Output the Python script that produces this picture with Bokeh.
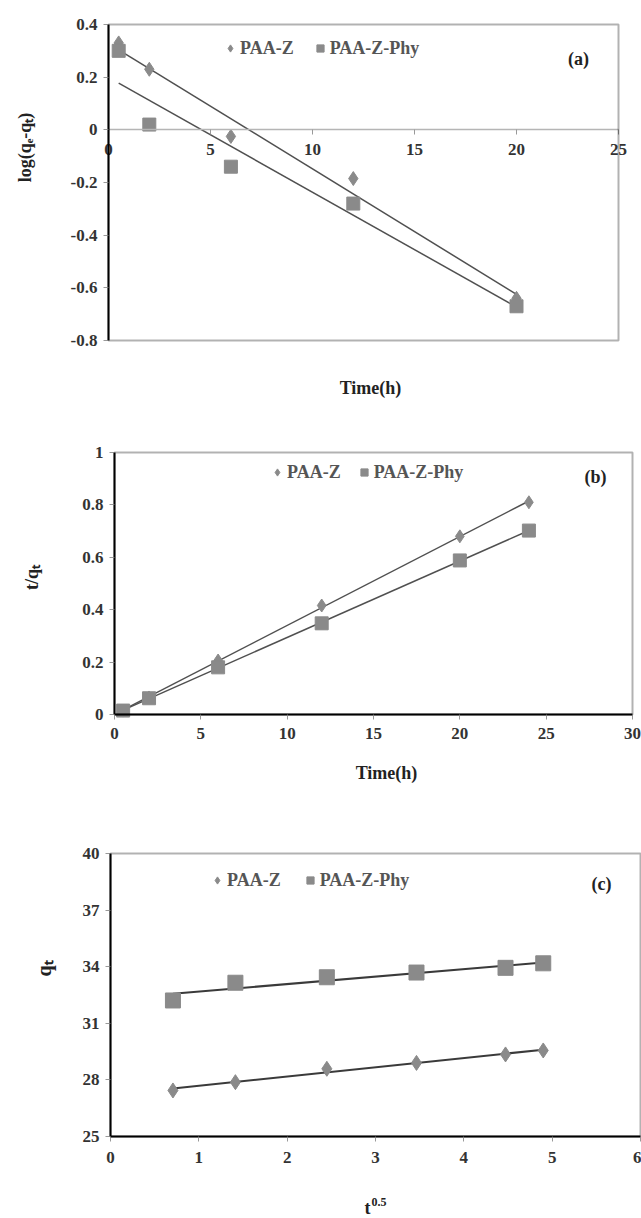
import numpy as np
from bokeh.plotting import figure
from bokeh.models import Range1d, FixedTicker, Label, Legend, LegendItem, LinearAxis, BoxAnnotation
from bokeh.layouts import column
from bokeh.embed import file_html
from bokeh.resources import INLINE

# ---------------- data ----------------
# (a) pseudo-first-order: log(qe - qt) vs time
time_a = [0.5, 2, 6, 12, 20]
logq_paaz = [0.33, 0.23, -0.025, -0.185, -0.64]
logq_phy = [0.30, 0.02, -0.14, -0.28, -0.67]

# (b) pseudo-second-order: t/qt vs time
time_b = [0.5, 2, 6, 12, 20, 24]
tq_paaz = [0.015, 0.065, 0.206, 0.416, 0.68, 0.81]
tq_phy = [0.015, 0.062, 0.18, 0.348, 0.588, 0.702]

# (c) intra-particle diffusion: qt vs t^0.5
sqrt_t = [0.707, 1.414, 2.449, 3.464, 4.472, 4.899]
qt_paaz = [27.44, 27.88, 28.59, 28.90, 29.35, 29.56]
qt_phy = [32.21, 33.15, 33.44, 33.69, 33.94, 34.18]

series_names = ["PAA-Z", "PAA-Z-Phy"]

xticks_a = [0, 5, 10, 15, 20, 25]
yticks_a = [-0.8, -0.6, -0.4, -0.2, 0, 0.2, 0.4]
ylabels_a = ["-0.8", "-0.6", "-0.4", "-0.2", "0", "0.2", "0.4"]
xticks_b = [0, 5, 10, 15, 20, 25, 30]
yticks_b = [0, 0.2, 0.4, 0.6, 0.8, 1]
ylabels_b = ["0", "0.2", "0.4", "0.6", "0.8", "1"]
xticks_c = [0, 1, 2, 3, 4, 5, 6]
yticks_c = [25, 28, 31, 34, 37, 40]

# ---------------- styles / layout ----------------
FONT = "Liberation Serif"
MARK = "#8a8a8a"
LINE = "#505050"
TICK_FS = "17px"
W = 641


def make_panel(H, box, xlim, ylim):
    """Figure whose frame is the whole canvas; box = (left, right, top, bottom) px of the plot box."""
    l, r, t, b = box
    kx = (xlim[1] - xlim[0]) / (r - l)
    ky = (ylim[1] - ylim[0]) / (b - t)
    xr = Range1d(xlim[0] - l * kx, xlim[0] + (W - l) * kx)
    yr = Range1d(ylim[0] - (H - b) * ky, ylim[1] + t * ky)
    p = figure(width=W, height=H, x_range=xr, y_range=yr, output_backend="svg",
               toolbar_location=None, x_axis_location=None, y_axis_location=None,
               min_border=0, min_border_left=0, min_border_right=0,
               min_border_top=0, min_border_bottom=0)
    p.outline_line_color = None
    p.background_fill_color = "white"
    p.border_fill_color = "white"
    for g in p.grid:
        g.visible = False

    def px(sx):
        return xlim[0] + (sx - l) * kx

    def py(sy):
        return ylim[0] + (b - sy) * ky

    p.add_layout(BoxAnnotation(left=xlim[0], right=xlim[1], bottom=ylim[0], top=ylim[1],
                               fill_alpha=0, line_color="black", line_width=2))
    return p, px, py


def style_axis(ax, line_color="black", line_width=2, standoff=6):
    ax.major_label_text_font = FONT
    ax.major_label_text_font_style = "bold"
    ax.major_label_text_font_size = TICK_FS
    ax.major_label_text_color = "#333333"
    ax.major_tick_line_color = "#999999"
    ax.major_tick_in = 0
    ax.major_tick_out = 5
    ax.minor_tick_line_color = None
    ax.axis_line_color = line_color
    ax.axis_line_width = line_width
    ax.major_label_standoff = standoff


def add_axes(p, xticks, yticks, x_at, y_at, x_standoff, ylabels=None, x_line="black", x_width=2):
    xa = LinearAxis(fixed_location=x_at, ticker=FixedTicker(ticks=xticks),
                    bounds=(xticks[0], xticks[-1]))
    style_axis(xa, x_line, x_width, x_standoff)
    p.add_layout(xa, "below")
    ya = LinearAxis(fixed_location=y_at, ticker=FixedTicker(ticks=yticks),
                    bounds=(yticks[0], yticks[-1]))
    style_axis(ya)
    if ylabels is not None:
        ya.major_label_overrides = dict(zip(yticks, ylabels))
    p.add_layout(ya, "left")


def add_trend(p, x, y, color=LINE, width=1.5):
    k, b = np.polyfit(x, y, 1)
    xs = [min(x), max(x)]
    p.line(xs, [k * xs[0] + b, k * xs[1] + b], line_color=color, line_width=width)


def add_legend(p, r1, r2, loc, spacing):
    leg = Legend(items=[LegendItem(label=series_names[0], renderers=[r1]),
                        LegendItem(label=series_names[1], renderers=[r2])],
                 orientation="horizontal", location=loc,
                 border_line_color=None, background_fill_alpha=0,
                 padding=0, margin=0, spacing=spacing,
                 glyph_width=18, glyph_height=22, label_standoff=1,
                 label_text_font=FONT, label_text_font_size="18px",
                 label_text_font_style="bold",
                 label_text_color="#555555", label_height=20)
    p.add_layout(leg)


def text(p, x, y, s, size="18px", angle=0.0, align="center"):
    p.add_layout(Label(x=x, y=y, text=s, text_font=FONT, text_font_size=size,
                       text_font_style="bold", text_align=align,
                       text_baseline="middle", angle=angle, text_color="#222222"))


# ---------------- (a) ----------------
Ha = 410
pa, pxa, pya = make_panel(Ha, (108, 618, 24, 340), (xticks_a[0], xticks_a[-1]), (yticks_a[0], yticks_a[-1]))
add_axes(pa, xticks_a, yticks_a, 0, 0, 9, ylabels_a, x_line="#b5b5b5", x_width=1.5)
add_trend(pa, time_a, logq_paaz)
add_trend(pa, time_a, logq_phy)
ra1 = pa.scatter(time_a, logq_paaz, marker="diamond", size=14, fill_color=MARK, line_color=MARK)
ra2 = pa.scatter(time_a, logq_phy, marker="square", size=13, fill_color=MARK, line_color=MARK)
add_legend(pa, ra1, ra2, (221, Ha - 48 - 11), 17)
text(pa, pxa(578), pya(58), "(a)")
text(pa, pxa(370), pya(387), "Time(h)")
text(pa, pxa(24), pya(147), "log(qₑ-qₜ)", angle=np.pi / 2)

# ---------------- (b) ----------------
Hb = 390
pb, pxb, pyb = make_panel(Hb, (114, 632, 42, 304), (xticks_b[0], xticks_b[-1]), (yticks_b[0], yticks_b[-1]))
add_axes(pb, xticks_b, yticks_b, 0, 0, 8, ylabels_b)
add_trend(pb, time_b, tq_paaz)
add_trend(pb, time_b, tq_phy)
rb1 = pb.scatter(time_b, tq_paaz, marker="diamond", size=13, fill_color=MARK, line_color=MARK)
rb2 = pb.scatter(time_b, tq_phy, marker="square", size=13, fill_color=MARK, line_color=MARK)
add_legend(pb, rb1, rb2, (268, Hb - 62 - 11), 14)
text(pb, pxb(595), pyb(66), "(b)")
text(pb, pxb(386), pyb(362), "Time(h)")
text(pb, pxb(31), pyb(167), "t/qₜ", angle=np.pi / 2)

# ---------------- (c) ----------------
Hc = 418
pc, pxc, pyc = make_panel(Hc, (110, 640, 53, 336), (xticks_c[0], xticks_c[-1]), (yticks_c[0], yticks_c[-1]))
add_axes(pc, xticks_c, yticks_c, 25, 0, 10)
add_trend(pc, sqrt_t, qt_paaz, color="#3a3a3a", width=2)
add_trend(pc, sqrt_t, qt_phy, color="#3a3a3a", width=2)
rc1 = pc.scatter(sqrt_t, qt_paaz, marker="diamond", size=15, fill_color=MARK, line_color=MARK)
rc2 = pc.scatter(sqrt_t, qt_phy, marker="square", size=15, fill_color=MARK, line_color=MARK)
add_legend(pc, rc1, rc2, (208, Hc - 80 - 11), 20)
text(pc, pxc(601), pyc(83), "(c)")
text(pc, pxc(367), pyc(407), "t", size="18px")
text(pc, pxc(371), pyc(401), "0.5", size="12px", align="left")
text(pc, pxc(43), pyc(168), "qₜ", size="20px", angle=np.pi / 2)

layout = column(pa, pb, pc, spacing=0)
open("out.html", "w").write(file_html(layout, INLINE))
